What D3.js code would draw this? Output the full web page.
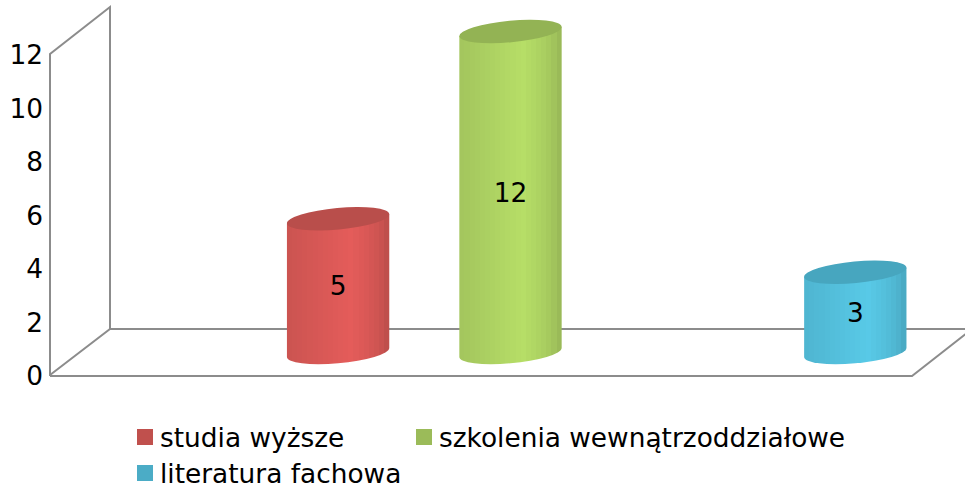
<!DOCTYPE html>
<html>
<head>
<meta charset="utf-8">
<script src="https://cdn.jsdelivr.net/npm/d3@7"></script>
<style>
html, body { margin: 0; padding: 0; background: #fff; overflow: hidden; }
text { font-family: "DejaVu Sans", sans-serif; fill: #000; }
</style>
</head>
<body>
<div id="chart"></div>
<script>
const seriesNames = ["studia wyższe", "szkolenia wewnątrzoddziałowe", "literatura fachowa"];
const seriesValues = [5, 12, 3];
// slots along the floor, the 1st and 4th stay empty in the original
const slots = [0, 1, 2, 3, 4];
const seriesSlots = [1, 2, 4];
const yTicks = [0, 2, 4, 6, 8, 10, 12];
const baseColors = ["#C0504D", "#9BBB59", "#4BACC6"];
const lightColors = ["#e45c5a", "#b6de67", "#58c9e7"];
const topColors = ["#b94e4b", "#93b354", "#47a6bf"];

const width = 965, height = 488;
const wallLine = "#8c8c8c";
const fontSize = "26.4px";

//How far the back wall is pushed away from the front edge
const depth = {x: 60, y: -47};
const front = {left: 50, right: 912};

const svg = d3.select("#chart")
    .append("svg")
    .attr("width", width)
    .attr("height", height);

const yScale = d3.scaleLinear().domain([0, 12]).range([375, 54]);
const xScale = d3.scaleBand().domain(slots)
    .range([front.left + depth.x / 2 - 0.5, front.right + depth.x / 2 - 0.5]);

//Walls and floor
const y0 = yScale(0), yTop = yScale(12);
const wall = [
    [[front.left, y0 + 1], [front.left, yTop], [front.left + depth.x, yTop + depth.y], [front.left + depth.x, y0 + depth.y + 1]],
    [[front.left, y0], [front.left + depth.x, y0 + depth.y + 1], [front.right + depth.x, y0 + depth.y + 1]],
    [[front.left, y0 + 1], [front.right, y0 + 1], [front.right + depth.x, y0 + 1 + depth.y]]
];
svg.selectAll("path.wall")
    .data(wall)
    .join("path")
    .attr("class", "wall")
    .attr("d", d3.line())
    .attr("fill", "none")
    .attr("stroke", wallLine)
    .attr("stroke-width", 2);

//Y axis, labels only
const yAxis = svg.append("g")
    .attr("transform", `translate(${front.left},0)`)
    .call(d3.axisLeft(yScale).tickValues(yTicks).tickSize(0).tickPadding(7));
yAxis.select(".domain").remove();
yAxis.selectAll("text")
    .style("font-size", fontSize)
    .attr("fill", "#000")
    .attr("y", 1.5);

//Cylinders: tilted ellipses, body shaded with narrow vertical bands
const tilt = -5.3;
const radius = xScale.bandwidth() * 0.298;
const minor = 10.7;
const rad = tilt * Math.PI / 180;
const halfW = Math.sqrt(radius * radius * Math.cos(rad) ** 2 + minor * minor * Math.sin(rad) ** 2);
const edgeY = (radius * radius - minor * minor) * Math.sin(-rad) * Math.cos(rad) / halfW;
const baseY = y0 - 22.5;

const defs = svg.append("defs");
const bandCount = 20;
const lightAt = 0.62;

seriesNames.forEach((name, i) => {
    const grad = defs.append("linearGradient")
        .attr("id", "body" + i)
        .attr("x1", 0).attr("x2", 1).attr("y1", 0).attr("y2", 0);
    const shade = d3.interpolateRgb(baseColors[i], lightColors[i]);
    const shadeRight = d3.interpolateRgb(d3.color(baseColors[i]).darker(0.2), lightColors[i]);
    d3.range(bandCount).forEach(b => {
        const t = (b + 0.5) / bandCount;
        const c = t < lightAt ? shade(0.3 + 0.7 * t / lightAt) : shadeRight(Math.pow((1 - t) / (1 - lightAt), 0.5));
        grad.append("stop").attr("offset", b / bandCount).attr("stop-color", c);
        grad.append("stop").attr("offset", (b + 1) / bandCount).attr("stop-color", c);
    });
});

const bars = svg.selectAll("g.bar")
    .data(seriesValues)
    .join("g")
    .attr("class", "bar");

bars.append("path")
    .attr("d", (d, i) => {
        const cx = xScale(seriesSlots[i]) + xScale.bandwidth() / 2;
        const topY = baseY - (y0 - yScale(d));
        return `M${cx - halfW},${topY + edgeY}L${cx - halfW},${baseY + edgeY}` +
            `A${radius},${minor} ${tilt} 0 0 ${cx + halfW},${baseY - edgeY}` +
            `L${cx + halfW},${topY - edgeY}Z`;
    })
    .attr("fill", (d, i) => `url(#body${i})`);

bars.append("ellipse")
    .attr("rx", radius)
    .attr("ry", minor)
    .attr("transform", (d, i) => {
        const cx = xScale(seriesSlots[i]) + xScale.bandwidth() / 2;
        return `translate(${cx},${baseY - (y0 - yScale(d))}) rotate(${tilt})`;
    })
    .attr("fill", (d, i) => topColors[i]);

bars.append("text")
    .attr("x", (d, i) => xScale(seriesSlots[i]) + xScale.bandwidth() / 2)
    .attr("y", d => baseY - (y0 - yScale(d)) / 2 + 9.5)
    .attr("text-anchor", "middle")
    .style("font-size", fontSize)
    .text(d => d);

//Legend
const legendX = [137, 416, 137];
const legendY = [447, 447, 483];
const legend = svg.selectAll("g.legend")
    .data(seriesNames)
    .join("g")
    .attr("class", "legend")
    .attr("transform", (d, i) => `translate(${legendX[i]},${legendY[i]})`);

legend.append("rect")
    .attr("y", -18)
    .attr("width", 16)
    .attr("height", 16)
    .attr("fill", (d, i) => baseColors[i]);

legend.append("text")
    .attr("x", 23)
    .style("font-size", fontSize)
    .text(d => d);
</script>
</body>
</html>
